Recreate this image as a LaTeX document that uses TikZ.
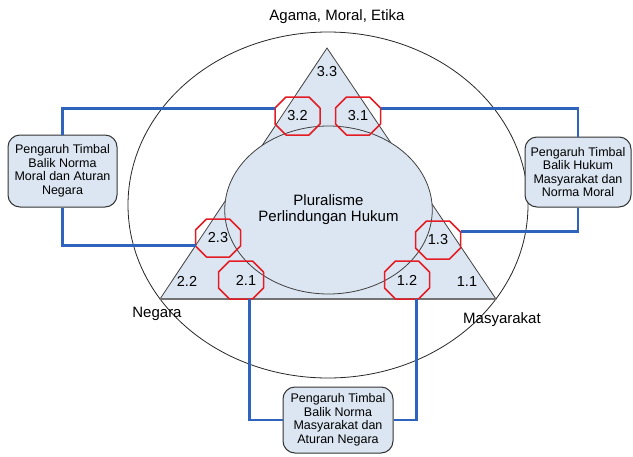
\documentclass[tikz,border=0pt]{standalone}
\usepackage{fontspec}
\setmainfont{Liberation Sans}
\usetikzlibrary{shapes.geometric}

\definecolor{lineblue}{RGB}{46,100,190}
\definecolor{octred}{RGB}{228,28,36}
\definecolor{paleblue}{RGB}{220,230,242}

\begin{document}
\begin{tikzpicture}[x=1pt,y=-1pt]
        \useasboundingbox (0,0) rectangle (633,456);

        % outer ellipse and triangle
        \draw[black!85, line width=0.8pt] (328,205) ellipse [x radius=200, y radius=173];
        \coordinate (top) at (327,48);
        \coordinate (left) at (160,299);
        \coordinate (right) at (496,299);
        \draw[fill=paleblue, draw=black!75, line width=0.8pt] (top) -- (left) -- (right) -- cycle;
        \draw[black!55, line width=1.6pt] (left) -- (right);

        \node[ellipse, fill=paleblue, draw=black!75, line width=0.8pt, minimum width=197, minimum height=168,
              align=center, font=\fontsize{15}{16}\selectfont] (plural) at (328.5,210) {Pluralisme\\Perlindungan Hukum};

        \begin{scope}[every node/.style={font=\fontsize{15}{16}\selectfont}]
            \node (agama) at (337,17) {Agama, Moral, Etika};
            \node (negara) at (157,314) {Negara};
            \node (masy) at (502,320) {Masyarakat};
        \end{scope}

        \begin{scope}[every node/.style={font=\fontsize{14.5}{14.5}\selectfont}]
            \node (33) at (327,72) {3.3};
            \node (22) at (187,281) {2.2};
            \node (11) at (467,282) {1.1};
        \end{scope}

        % octagon markers
        \begin{scope}[every node/.style={minimum width=45, minimum height=38, inner sep=0pt, outer sep=0pt,
                      font=\fontsize{14.5}{14.5}\selectfont}]
            \node (32) at (297.5,116) {3.2};
            \node (31) at (358,116) {3.1};
            \node (23) at (218,238) {2.3};
            \node (13) at (438,240) {1.3};
            \node (21) at (241,280) {\hspace{10pt}2.1};
            \node (12) at (407,280) {1.2};
        \end{scope}
        \foreach \n in {32,31,23,13,21,12}
            \draw[octred, line width=1.5pt, line join=round]
                ([xshift=11pt]\n.north west) -- ([xshift=-11pt]\n.north east) -- ([yshift=-11pt]\n.north east)
                -- ([yshift=11pt]\n.south east) -- ([xshift=-11pt]\n.south east) -- ([xshift=11pt]\n.south west)
                -- ([yshift=11pt]\n.south west) -- ([yshift=-11pt]\n.north west) -- cycle;

        \begin{scope}[every node/.style={draw=black!80, line width=1pt, fill=paleblue, rounded corners=12,
                      align=center, inner sep=2pt, font=\fontsize{12.5}{13.5}\selectfont}]
            \node[minimum width=109, minimum height=72] (lbox) at (62.5,171) {Pengaruh Timbal\\Balik Norma\\Moral dan Aturan\\Negara};
            \node[minimum width=106, minimum height=70] (rbox) at (578,172) {Pengaruh Timbal\\Balik Hukum\\Masyarakat dan\\Norma Moral};
            \node[minimum width=110, minimum height=66] (bbox) at (338,420) {Pengaruh Timbal\\Balik Norma\\Masyarakat dan\\Aturan Negara};
        \end{scope}

        \begin{scope}[lineblue, line width=2.8pt]
            \draw (32.162) -| (lbox.north);
            \draw (lbox.south) |- (23.198);
            \draw (31.18) -| (rbox.north);
            \draw (rbox.south) |- (13.20);
            \draw (21.-66) |- (bbox.west);
            \draw (bbox.east) -| (12.-64);
        \end{scope}
    \end{tikzpicture}
\end{document}
